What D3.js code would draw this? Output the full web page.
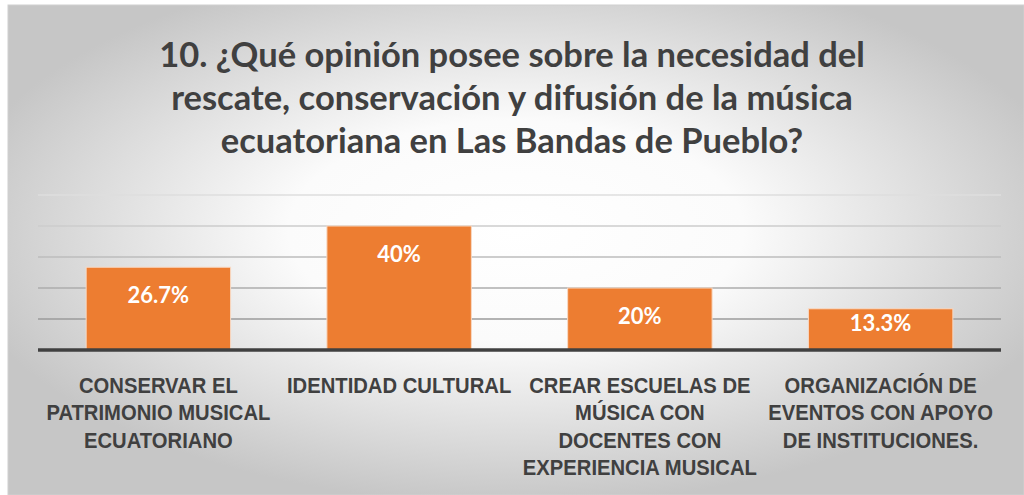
<!DOCTYPE html>
<html>
<head>
<meta charset="utf-8">
<script src="https://cdn.jsdelivr.net/npm/d3@7"></script>
<style>
  body { margin: 0; background: #fff; }
  svg { display: block; font-family: Lato, "Open Sans", sans-serif; }
  .title { font-weight: bold; fill: #404040; }
  .cat_label { font-weight: bold; fill: #404040; }
  .bar_label { font-weight: bold; fill: #fff; }
</style>
</head>
<body>
<svg id="chart" width="1024" height="495"></svg>
<script>
var titleLines = [
  "10. ¿Qué opinión posee sobre la necesidad del",
  "rescate, conservación y difusión de la música",
  "ecuatoriana en Las Bandas de Pueblo?"
];

var categories = [
  ["CONSERVAR EL", "PATRIMONIO MUSICAL", "ECUATORIANO"],
  ["IDENTIDAD CULTURAL"],
  ["CREAR ESCUELAS DE", "MÚSICA CON", "DOCENTES CON", "EXPERIENCIA MUSICAL"],
  ["ORGANIZACIÓN DE", "EVENTOS CON APOYO", "DE INSTITUCIONES."]
];

var values = [26.7, 40, 20, 13.3];
var valueLabels = ["26.7%", "40%", "20%", "13.3%"];
var yTicks = [0, 10, 20, 30, 40, 50];

var svg = d3.select("#chart"),
    margin = {top: 195, right: 23, bottom: 145, left: 38},
    width = 1024 - margin.left - margin.right,
    height = 495 - margin.top - margin.bottom;

var defs = svg.append("defs");
var bg = defs.append("radialGradient")
    .attr("id", "bg")
    .attr("cx", "50%").attr("cy", "46%").attr("r", "56%");
bg.append("stop").attr("offset", "0%").attr("stop-color", "#ffffff");
bg.append("stop").attr("offset", "40%").attr("stop-color", "#fbfbfb");
bg.append("stop").attr("offset", "100%").attr("stop-color", "#c6c6c6");

svg.append("rect")
    .attr("x", 8).attr("y", 5)
    .attr("width", 1016).attr("height", 490)
    .attr("fill", "url(#bg)")
    .attr("stroke", "#d0d0d0")
    .attr("stroke-width", 1);

// title
svg.append("text")
    .attr("class", "title")
    .attr("text-anchor", "middle")
    .attr("font-size", 34.5)
  .selectAll("tspan")
  .data(titleLines)
  .enter().append("tspan")
    .attr("x", 512)
    .attr("y", function(d, i) { return 67 + i * 43; })
    .text(function(d) { return d; });

var g = svg.append("g").attr("transform", "translate(" + margin.left + "," + margin.top + ")");

var x = d3.scaleBand()
    .domain(d3.range(categories.length))
    .range([0, width])
    .paddingInner(0.4)
    .paddingOuter(0.2);

var y = d3.scaleLinear()
    .domain([0, 50])
    .range([height, 0]);

var gridColor = d3.scaleLinear()
    .domain([0, 50])
    .range(["#8a8a8a", "#dedede"]);

// gridlines first
g.append("g")
    .attr("class", "grid")
  .selectAll("line")
  .data(yTicks.filter(function(t) { return t > 0; }))
  .enter().append("line")
    .attr("x1", 0).attr("x2", width)
    .attr("y1", function(d) { return y(d); })
    .attr("y2", function(d) { return y(d); })
    .attr("stroke", function(d) { return gridColor(d); })
    .attr("stroke-width", 1.3);

g.selectAll(".bar")
  .data(values)
  .enter().append("rect")
    .attr("class", "bar")
    .attr("x", function(d, i) { return x(i); })
    .attr("y", function(d) { return y(d); })
    .attr("width", x.bandwidth())
    .attr("height", function(d) { return height - y(d); })
    .attr("fill", "#ED7D31")
    .attr("stroke", "#f8d9c4")
    .attr("stroke-width", 1);

g.selectAll(".bar_label")
  .data(values)
  .enter().append("text")
    .attr("class", "bar_label")
    .attr("text-anchor", "middle")
    .attr("font-size", 22)
    .attr("x", function(d, i) { return x(i) + x.bandwidth() / 2; })
    .attr("y", function(d) { return Math.min(y(d) + 28, height - 27) + 8; })
    .text(function(d, i) { return valueLabels[i]; });

// x axis
var xAxis = g.append("g")
    .attr("transform", "translate(0," + height + ")")
    .call(d3.axisBottom(x).tickSize(0).tickFormat(""));
xAxis.select(".domain")
    .attr("stroke", "#404040")
    .attr("stroke-width", 3.5)
    .attr("d", "M0,0H" + width);

// category labels are a bit condensed in the original
xAxis.selectAll(".tick").each(function(d) {
  d3.select(this).select("text").remove();
  d3.select(this).append("text")
      .attr("class", "cat_label")
      .attr("text-anchor", "middle")
      .attr("font-size", 22)
      .attr("transform", "scale(0.92,1)")
    .selectAll("tspan")
    .data(categories[d])
    .enter().append("tspan")
      .attr("x", 0)
      .attr("y", function(t, i) { return 43 + i * 27.5; })
      .text(function(t) { return t; });
});
</script>
</body>
</html>
